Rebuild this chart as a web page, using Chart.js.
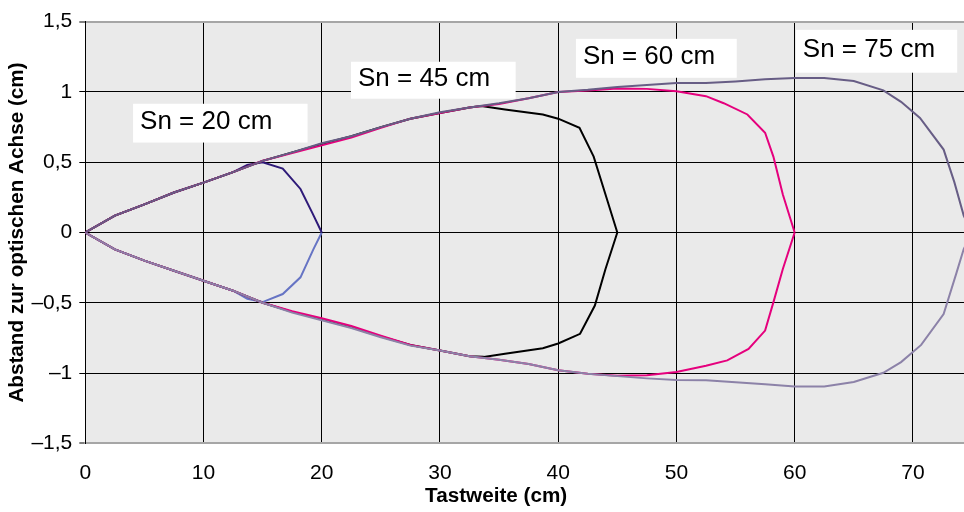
<!DOCTYPE html>
<html>
<head>
<meta charset="utf-8">
<script src="https://cdn.jsdelivr.net/npm/chart.js@4/dist/chart.umd.min.js"></script>
<style>
  html, body { margin: 0; padding: 0; background: #ffffff; overflow: hidden; }
  #wrap { width: 972px; height: 512px; }
</style>
</head>
<body>
<div id="wrap"><canvas id="c" width="972" height="512"></canvas></div>
<script>
// ---- data ----
const sn20UpperX = [0, 2.5, 5, 7.5, 10, 12.5, 13.7, 15, 16.7, 18.2, 19.2, 20];
const sn20UpperY = [0, 0.12, 0.2, 0.285, 0.355, 0.43, 0.48, 0.5, 0.455, 0.31, 0.14, 0];
const sn20LowerX = [0, 2.5, 5, 7.5, 10, 12.5, 13.7, 15, 16.7, 18.2, 19.3, 20];
const sn20LowerY = [0, -0.12, -0.2, -0.272, -0.343, -0.414, -0.472, -0.495, -0.438, -0.319, -0.118, 0];

const sn45UpperX = [0, 2.5, 5, 7.5, 10, 12.5, 15, 17.5, 20, 22.5, 25, 27.5, 30, 32.5, 33.5, 35.5, 38.7, 40, 41.8, 43, 44, 45];
const sn45UpperY = [0, 0.12, 0.2, 0.285, 0.355, 0.43, 0.51, 0.57, 0.63, 0.685, 0.75, 0.81, 0.85, 0.89, 0.9, 0.875, 0.84, 0.81, 0.745, 0.54, 0.27, 0];
const sn45LowerX = [0, 2.5, 5, 7.5, 10, 12.5, 15, 17.5, 20, 22.5, 25, 27.5, 30, 32.5, 33.7, 35.5, 38.7, 40, 41.85, 43.1, 44, 45];
const sn45LowerY = [0, -0.12, -0.2, -0.272, -0.343, -0.414, -0.5, -0.565, -0.62, -0.675, -0.74, -0.8, -0.84, -0.88, -0.885, -0.862, -0.823, -0.79, -0.721, -0.52, -0.26, 0];

const sn60UpperX = [0, 2.5, 5, 7.5, 10, 12.5, 15, 17.5, 20, 22.5, 25, 27.5, 30, 32.5, 35, 37.5, 40, 42.5, 45, 47.5, 50, 52.5, 54, 56, 57.5, 58.2, 59, 60];
const sn60UpperY = [0, 0.12, 0.2, 0.285, 0.355, 0.43, 0.51, 0.565, 0.62, 0.675, 0.745, 0.81, 0.85, 0.89, 0.915, 0.955, 1.0, 1.01, 1.025, 1.022, 1.005, 0.97, 0.92, 0.84, 0.71, 0.54, 0.27, 0];
const sn60LowerX = [0, 2.5, 5, 7.5, 10, 12.5, 15, 17.5, 20, 22.5, 25, 27.5, 30, 32.5, 35, 37.5, 40, 42.5, 45, 47.5, 50, 52.5, 54.3, 56.1, 57.5, 58.2, 59, 60];
const sn60LowerY = [0, -0.12, -0.2, -0.272, -0.343, -0.414, -0.5, -0.56, -0.61, -0.665, -0.735, -0.8, -0.84, -0.88, -0.905, -0.935, -0.98, -1.005, -1.02, -1.015, -0.993, -0.948, -0.91, -0.828, -0.698, -0.497, -0.26, 0];

const sn75UpperX = [0, 2.5, 5, 7.5, 10, 12.5, 15, 17.5, 20, 22.5, 25, 27.5, 30, 32.5, 35, 37.5, 40, 42.5, 45, 47.5, 50, 52.5, 55, 57.5, 60, 62.5, 65, 67.5, 69, 70.6, 72.6, 73.5, 74.3, 75];
const sn75UpperY = [0, 0.12, 0.2, 0.285, 0.355, 0.43, 0.51, 0.57, 0.635, 0.685, 0.75, 0.81, 0.855, 0.89, 0.92, 0.955, 1.0, 1.015, 1.035, 1.05, 1.064, 1.064, 1.075, 1.09, 1.1, 1.1, 1.078, 1.011, 0.93, 0.815, 0.59, 0.36, 0.12, 0];
const sn75LowerX = [0, 2.5, 5, 7.5, 10, 12.5, 15, 17.5, 20, 22.5, 25, 27.5, 30, 32.5, 35, 37.5, 40, 42.5, 45, 47.5, 50, 52.5, 55, 57.5, 60, 62.5, 65, 67.5, 69, 70.7, 72.6, 73.7, 74.3, 75];
const sn75LowerY = [0, -0.12, -0.2, -0.272, -0.343, -0.414, -0.5, -0.57, -0.625, -0.68, -0.745, -0.805, -0.84, -0.88, -0.905, -0.935, -0.98, -1.005, -1.022, -1.038, -1.05, -1.052, -1.065, -1.08, -1.095, -1.095, -1.064, -0.998, -0.922, -0.8, -0.58, -0.284, -0.118, 0];

const seriesLabels = ['Sn = 20 cm', 'Sn = 45 cm', 'Sn = 60 cm', 'Sn = 75 cm'];
const xTickValues = [0, 10, 20, 30, 40, 50, 60, 70];
const yTickValues = [-1.5, -1, -0.5, 0, 0.5, 1, 1.5];
const xTitle = 'Tastweite (cm)';
const yTitle = 'Abstand zur optischen Achse (cm)';

// ---- helpers ----
const pts = (xs, ys) => xs.map((x, i) => ({ x: x, y: ys[i] }));
const fmt = v => {
  const s = String(Math.abs(v)).replace('.', ',');
  return v < 0 ? '\u2013' + s : s;
};
const FONT = '"Liberation Sans", Arial, sans-serif';

// label boxes in data units: [xLeft, yTop, xRight, yBottom]
const labelBoxes = [
  [4.04, 0.916, 18.8, 0.64],
  [22.47, 1.215, 36.4, 0.952],
  [41.5, 1.378, 55.1, 1.101],
  [60.1, 1.442, 73.75, 1.137]
];
// x-axis title centre, in x data units
const xTitleCenter = 34.75;

const plotBg = {
  id: 'plotBg',
  beforeDraw(chart) {
    const { ctx, chartArea: a } = chart;
    ctx.save();
    ctx.fillStyle = '#eaeaea';
    ctx.fillRect(a.left, a.top, a.right - a.left, a.bottom - a.top);
    ctx.restore();
  }
};

const snLabels = {
  id: 'snLabels',
  afterDatasetsDraw(chart) {
    const { ctx, scales: { x, y } } = chart;
    ctx.save();
    ctx.font = '26px ' + FONT;
    ctx.textBaseline = 'middle';
    ctx.textAlign = 'left';
    labelBoxes.forEach((b, i) => {
      const l = x.getPixelForValue(b[0]);
      const t = y.getPixelForValue(b[1]);
      const r = x.getPixelForValue(b[2]);
      const bt = y.getPixelForValue(b[3]);
      ctx.fillStyle = '#ffffff';
      ctx.fillRect(l, t, r - l, bt - t);
      ctx.fillStyle = '#000000';
      ctx.fillText(seriesLabels[i], l + 7, (t + bt) / 2 - 1);
    });
    ctx.restore();
  },
  afterDraw(chart) {
    const { ctx, scales: { x } } = chart;
    ctx.save();
    ctx.font = 'bold 20.7px ' + FONT;
    ctx.textBaseline = 'middle';
    ctx.textAlign = 'center';
    ctx.fillStyle = '#000';
    ctx.fillText(xTitle, x.getPixelForValue(xTitleCenter), 496);
    ctx.restore();
  }
};

const line = (data, color) => ({
  data: data,
  borderColor: color,
  backgroundColor: color,
  borderWidth: 2,
  pointRadius: 0,
  showLine: true,
  tension: 0,
  fill: false
});

new Chart(document.getElementById('c'), {
  type: 'scatter',
  data: {
    datasets: [
      line(pts(sn75UpperX, sn75UpperY), '#675d85'),
      line(pts(sn75LowerX, sn75LowerY), '#8c82a8'),
      line(pts(sn60UpperX, sn60UpperY), '#e5007d'),
      line(pts(sn60LowerX, sn60LowerY), '#e5007d'),
      line(pts(sn45UpperX, sn45UpperY), '#000000'),
      line(pts(sn45LowerX, sn45LowerY), '#000000'),
      line(pts(sn20UpperX, sn20UpperY), '#2e1a78'),
      line(pts(sn20LowerX, sn20LowerY), '#6674c4')
    ]
  },
  options: {
    responsive: false,
    animation: false,
    layout: { padding: { top: 21.7, left: 0, right: 0, bottom: 0 } },
    plugins: { legend: { display: false }, tooltip: { enabled: false } },
    scales: {
      x: {
        type: 'linear',
        min: 0,
        max: 75,
        afterFit: s => { s.height = 68.7; },
        afterBuildTicks: s => { s.ticks = xTickValues.map(v => ({ value: v })); },
        ticks: {
          color: '#000',
          font: { family: FONT, size: 21 },
          padding: 17,
          maxRotation: 0,
          callback: v => String(v)
        },
        grid: { color: '#000', lineWidth: 1, drawTicks: false },
        border: { color: '#a6a6a6', width: 2 },
        title: { display: false }
      },
      y: {
        type: 'linear',
        min: -1.5,
        max: 1.5,
        afterFit: s => { s.width = 85.3; },
        afterBuildTicks: s => { s.ticks = yTickValues.map(v => ({ value: v })); },
        ticks: {
          color: '#000',
          font: { family: FONT, size: 21 },
          padding: 7,
          callback: v => fmt(v)
        },
        grid: {
          color: c => (Math.abs(c.tick && c.tick.value) === 1.5 ? '#a6a6a6' : '#000'),
          lineWidth: c => (Math.abs(c.tick && c.tick.value) === 1.5 ? 2 : 1),
          tickColor: '#000',
          tickLength: 6,
          tickWidth: 1
        },
        border: { color: '#000', width: 1 },
        title: {
          display: true,
          text: yTitle,
          color: '#000',
          font: { family: FONT, size: 20.7, weight: 'bold' },
          padding: { top: 5, bottom: 0 }
        }
      }
    }
  },
  plugins: [plotBg, snLabels]
});
</script>
</body>
</html>
